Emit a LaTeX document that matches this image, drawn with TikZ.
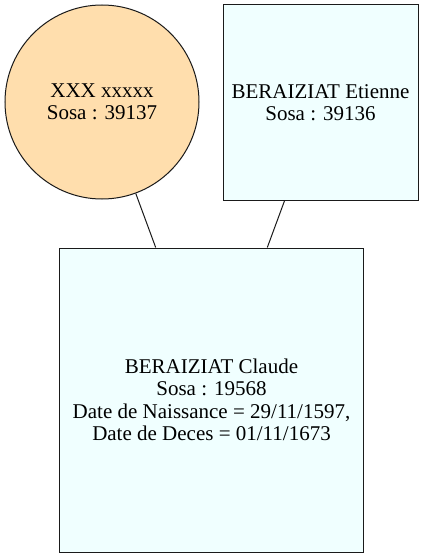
\documentclass[tikz,border=0pt]{standalone}
\usepackage{fontspec}
\setmainfont{Liberation Serif}
\usetikzlibrary{positioning}
\definecolor{Peach}{HTML}{FFDEAD}
\definecolor{Azure}{HTML}{F0FFFF}
\definecolor{Edge}{HTML}{1A1A1A}
\tikzset{
 person/.style={draw=Edge, line width=1pt, align=center, inner sep=0pt, font=\fontsize{21}{22.4}\selectfont},
 female/.style={person, circle, fill=Peach, minimum size=194pt},
 male/.style={person, rectangle, fill=Azure, minimum size=195pt},
 child/.style={person, rectangle, fill=Azure, minimum size=304pt},
 link/.style={draw=Edge, line width=1pt}
}
\begin{document}
\begin{tikzpicture}[x=1pt,y=-1pt]
\useasboundingbox (0,0) rectangle (424,559);
\node[female] (mother) at (102,102) {XXX xxxxx\\Sosa : 39137};
\node[male] (father) at (320.5,102.5) {BERAIZIAT Etienne\\Sosa : 39136};
\node[child] (claude) at (211.5,400) {BERAIZIAT Claude\\Sosa : 19568\\Date de Naissance = 29/11/1597,\\Date de Deces = 01/11/1673};
\draw[link] (mother) -- (claude);
\draw[link] (father) -- (claude);
\end{tikzpicture}
\end{document}
